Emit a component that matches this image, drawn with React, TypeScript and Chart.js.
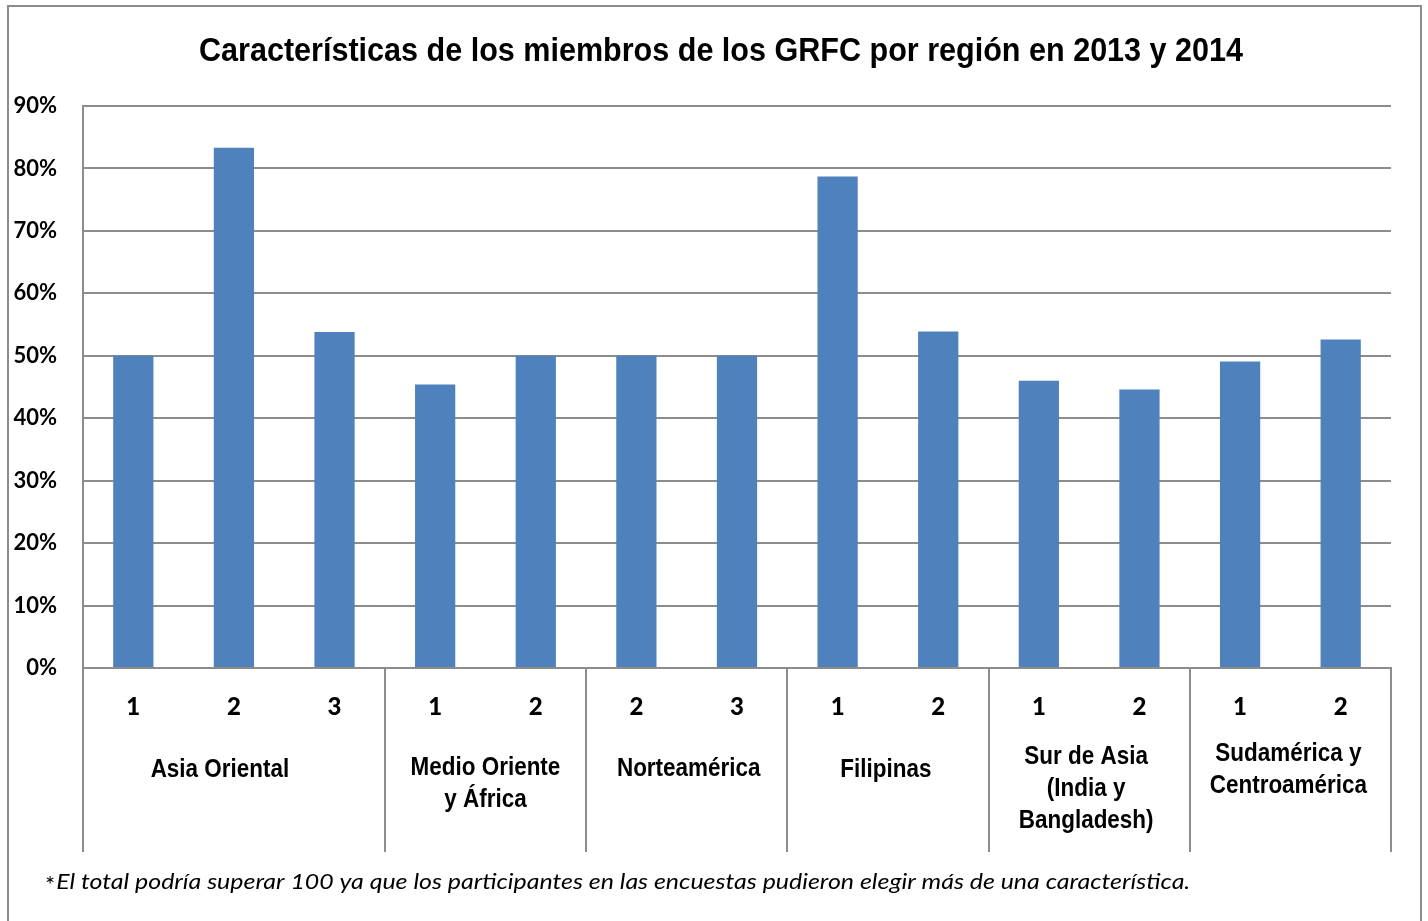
import React, { useEffect, useRef } from "react";
import { Chart, registerables } from "chart.js";

Chart.register(...registerables);

const TITLE = "Características de los miembros de los GRFC por región en 2013 y 2014";
const FOOTNOTE_STAR = "*";
const FOOTNOTE = "El total podría superar 100 ya que los participantes en las encuestas pudieron elegir más de una característica.";

const categories = ["1", "2", "3", "1", "2", "2", "3", "1", "2", "1", "2", "1", "2"];
const values = [50.0, 83.3, 53.8, 45.4, 50.0, 50.0, 50.0, 78.7, 53.9, 46.0, 44.6, 49.1, 52.6];
const groupNames: string[][] = [
  ["Asia Oriental"],
  ["Medio Oriente", "y África"],
  ["Norteamérica"],
  ["Filipinas"],
  ["Sur de Asia", "(India y", "Bangladesh)"],
  ["Sudamérica y", "Centroamérica"],
];
const groupSizes = [3, 2, 2, 2, 2, 2];
const yTicks = [0, 10, 20, 30, 40, 50, 60, 70, 80, 90];

const GRAY = "#8c8c8c";
const BAR = "#4F81BD";
const NARROW = "'Liberation Sans Narrow', 'Arial Narrow', 'Liberation Sans', Arial, sans-serif";
const CAL = "Lato, 'Open Sans', sans-serif";

export default function App() {
  const ref = useRef<HTMLCanvasElement>(null);

  useEffect(() => {
    document.body.style.overflow = "hidden";
    if (!ref.current) return;

    const decor = {
      id: "decor",
      afterDraw(chart: any) {
        const { ctx, chartArea } = chart;
        const xs = chart.scales.x;
        ctx.save();
        // outer frame
        ctx.strokeStyle = GRAY;
        ctx.lineWidth = 2;
        ctx.beginPath();
        ctx.moveTo(8, 930);
        ctx.lineTo(8, 6);
        ctx.lineTo(1421, 6);
        ctx.lineTo(1421, 930);
        ctx.stroke();

        // title
        ctx.fillStyle = "#000";
        ctx.font = `bold 34px ${NARROW}`;
        ctx.textAlign = "center";
        ctx.textBaseline = "middle";
        const tw = ctx.measureText(TITLE).width;
        const squeeze = 1044 / tw;
        ctx.save();
        ctx.translate(721, 52);
        ctx.scale(squeeze, 1);
        ctx.fillText(TITLE, 0, 0);
        ctx.restore();

        // separators
        const top = chartArea.bottom;
        const bottom = chartArea.bottom + 184;
        ctx.strokeStyle = GRAY;
        ctx.lineWidth = 2;
        const bounds: number[] = [xs.left];
        let idx = 0;
        groupSizes.forEach((n) => {
          idx += n;
          if (idx < categories.length) {
            bounds.push((xs.getPixelForValue(idx - 1) + xs.getPixelForValue(idx)) / 2);
          }
        });
        bounds.push(xs.right);
        bounds.forEach((bx) => {
          ctx.beginPath();
          ctx.moveTo(Math.round(bx), top);
          ctx.lineTo(Math.round(bx), bottom);
          ctx.stroke();
        });

        // group labels
        ctx.font = `bold 25px ${NARROW}`;
        ctx.textAlign = "center";
        ctx.textBaseline = "middle";
        const centers = [770, 784, 769, 770, 789, 770];
        const shiftX = [-14, 0, 2, -2, -3, -2];
        let start = 0;
        groupNames.forEach((lines, g) => {
          const end = start + groupSizes[g] - 1;
          const cx = (xs.getPixelForValue(start) + xs.getPixelForValue(end)) / 2 + shiftX[g];
          const cy = centers[g];
          const lh = 32;
          lines.forEach((ln, i) => {
            ctx.save();
            ctx.translate(cx, cy + (i - (lines.length - 1) / 2) * lh);
            ctx.scale(squeeze, 1);
            ctx.fillText(ln, 0, 0);
            ctx.restore();
          });
          start += groupSizes[g];
        });

        // footnote
        ctx.textAlign = "left";
        ctx.font = `24px ${CAL}`;
        ctx.fillText(FOOTNOTE_STAR, 45, 885);
        const sw = ctx.measureText(FOOTNOTE_STAR).width;
        ctx.font = `italic 21px ${CAL}`;
        const fw = ctx.measureText(FOOTNOTE).width;
        ctx.save();
        ctx.translate(45 + sw + 1, 882);
        ctx.scale(1134 / fw, 1);
        ctx.fillText(FOOTNOTE, 0, 0);
        ctx.restore();
        ctx.restore();
      },
    };

    const chart = new Chart(ref.current, {
      type: "bar",
      data: {
        labels: categories,
        datasets: [
          {
            data: values,
            backgroundColor: BAR,
            borderWidth: 0,
            barPercentage: 0.4,
            categoryPercentage: 1,
          },
        ],
      },
      options: {
        animation: false,
        responsive: false,
        layout: { padding: { top: 106, right: 37, bottom: 69, left: 9 } },
        plugins: {
          legend: { display: false },
          title: { display: false },
          tooltip: { enabled: false },
        },
        scales: {
          x: {
            grid: { display: false, drawTicks: false },
            border: { display: true, color: GRAY, width: 2 },
            ticks: {
              color: "#000",
              font: { family: CAL, weight: "900", size: 24 },
              padding: 25,
              maxRotation: 0,
              autoSkip: false,
            },
            afterFit(scale: any) {
              scale.height = 184;
            },
          },
          y: {
            min: 0,
            max: 90,
            afterBuildTicks(scale: any) {
              scale.ticks = yTicks.map((v) => ({ value: v }));
            },
            grid: { color: GRAY, lineWidth: 2, drawTicks: false },
            border: { display: true, color: GRAY, width: 2 },
            ticks: {
              color: "#000",
              font: { family: CAL, weight: "bold", size: 22 },
              padding: 26,
              callback: (v: any) => `${v}%`,
            },
            afterFit(scale: any) {
              scale.width = 74;
            },
          },
        },
      },
      plugins: [decor],
    });
    return () => chart.destroy();
  }, []);

  return (
    <div style={{ position: "absolute", left: 0, top: 0, width: 1428, height: 921, background: "#fff" }}>
      <canvas ref={ref} width={1428} height={921} style={{ display: "block" }} />
    </div>
  );
}
